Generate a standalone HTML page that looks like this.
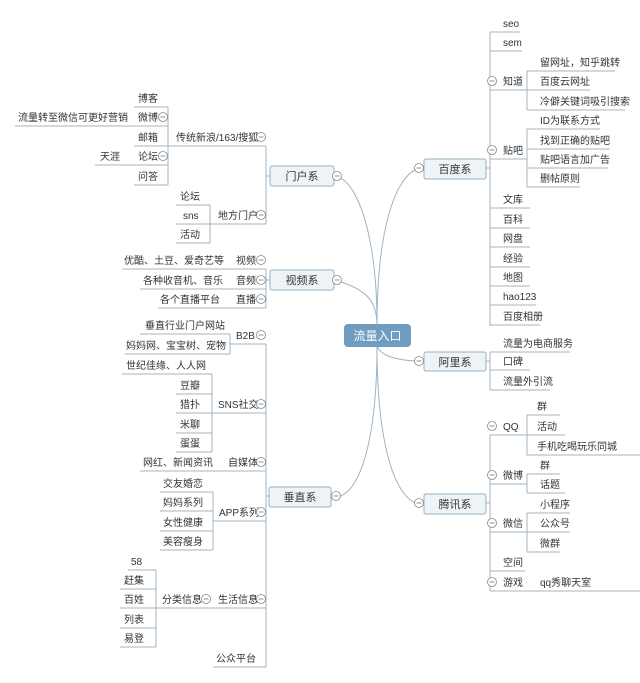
<!DOCTYPE html>
<html><head><meta charset="utf-8"><style>
html,body{margin:0;padding:0;background:#fff}
svg{display:block}
text{font-family:"Liberation Sans","Noto Sans CJK SC",sans-serif;font-size:10px;fill:#333}
.l{stroke:#9fb4c4;stroke-width:1;fill:none}
.c{fill:#fff;stroke:#888;stroke-width:0.8}
</style></head><body>
<svg width="640" height="683" viewBox="0 0 640 683" xmlns="http://www.w3.org/2000/svg">
<defs>
<g id="m"><circle class="c" r="4.5"/><line x1="-2.5" x2="2.5" y1="0" y2="0" stroke="#777" stroke-width="0.8"/></g>
</defs>
<!-- curves -->
<path class="l" stroke="#9aa" d="M377,325 C377,230 395,180 415,170"/>
<path class="l" d="M377,325 C377,240 360,190 341,178"/>
<path class="l" d="M377,325 C377,300 365,290 341,282"/>
<path class="l" d="M377,346 C380,355 395,360 415,361"/>
<path class="l" d="M377,346 C377,430 390,490 415,503"/>
<path class="l" d="M377,346 C377,440 360,490 340,496"/>

<!-- center -->
<rect x="344" y="324" width="67" height="23" rx="4" fill="#6f9cbf"/>
<text x="377.5" y="340" text-anchor="middle" style="fill:#fff;font-size:12px">流量入口</text>

<!-- main boxes -->
<g fill="#eef3f7" stroke="#9ab0c0">
<rect x="270" y="166" width="64" height="20" rx="2"/>
<rect x="270" y="270" width="64" height="20" rx="2"/>
<rect x="269" y="487" width="62" height="20" rx="2"/>
<rect x="424" y="159" width="62" height="20" rx="2"/>
<rect x="424" y="352" width="62" height="19" rx="2"/>
<rect x="424" y="494" width="62" height="20" rx="2"/>
</g>
<text x="302" y="180" text-anchor="middle" style="font-size:11px">门户系</text>
<text x="302" y="284" text-anchor="middle" style="font-size:11px">视频系</text>
<text x="300" y="501" text-anchor="middle" style="font-size:11px">垂直系</text>
<text x="455" y="173" text-anchor="middle" style="font-size:11px">百度系</text>
<text x="455" y="366" text-anchor="middle" style="font-size:11px">阿里系</text>
<text x="455" y="508" text-anchor="middle" style="font-size:11px">腾讯系</text>

<!-- Baidu -->
<path class="l" d="M486,168 H490 M490,32 V326
M490,32 H520 M490,51 H522 M490,90 H527 M527,71 V110 M527,71 H615 M527,90 H590 M527,110 H625
M490,159 H527 M527,129 V187 M527,129 H600 M527,149 H610 M527,168 H608 M527,187 H580
M490,208 H530 M490,228 H530 M490,247 H530 M490,267 H530 M490,286 H530 M490,305 H536 M490,325 H540"/>
<text x="503" y="27">seo</text><text x="503" y="46">sem</text>
<text x="503" y="85">知道</text><use href="#m" x="492" y="81"/>
<text x="540" y="66">留网址，知乎跳转</text><text x="540" y="85">百度云网址</text><text x="540" y="105">冷僻关键词吸引搜索</text>
<text x="503" y="154">贴吧</text><use href="#m" x="492" y="150"/>
<text x="540" y="124">ID为联系方式</text><text x="540" y="144">找到正确的贴吧</text><text x="540" y="163">贴吧语言加广告</text><text x="540" y="182">删帖原则</text>
<text x="503" y="203">文库</text><text x="503" y="223">百科</text><text x="503" y="242">网盘</text><text x="503" y="262">经验</text><text x="503" y="281">地图</text><text x="503" y="300">hao123</text><text x="503" y="320">百度相册</text>
<use href="#m" x="419" y="168"/>

<!-- Ali -->
<path class="l" d="M486,361 H490 M490,352 V390 M490,352 H570 M490,370 H530 M490,390 H550"/>
<text x="503" y="347">流量为电商服务</text><text x="503" y="365">口碑</text><text x="503" y="385">流量外引流</text>
<use href="#m" x="419" y="361"/>

<!-- Tencent -->
<path class="l" d="M486,503 H490 M490,435 V591
M490,435 H527 M527,415 V455 M527,415 H560 M527,435 H565 M527,455 H640
M490,484 H527 M527,474 V493 M527,474 H560 M527,493 H565
M490,532 H527 M527,513 V552 M527,513 H570 M527,532 H570 M527,552 H560
M490,571 H525 M490,591 H640"/>
<text x="503" y="430">QQ</text><use href="#m" x="492" y="426"/>
<text x="537" y="410">群</text><text x="537" y="430">活动</text><text x="537" y="450">手机吃喝玩乐同城</text>
<text x="503" y="479">微博</text><use href="#m" x="492" y="475"/>
<text x="540" y="469">群</text><text x="540" y="488">话题</text>
<text x="503" y="527">微信</text><use href="#m" x="492" y="523"/>
<text x="540" y="508">小程序</text><text x="540" y="527">公众号</text><text x="540" y="547">微群</text>
<text x="503" y="566">空间</text>
<text x="503" y="586">游戏</text><use href="#m" x="492" y="582"/><text x="540" y="586">qq秀聊天室</text>
<use href="#m" x="419" y="503"/>

<!-- Portal -->
<path class="l" d="M270,176 H266 M266,146 V224 M172,146 H266
M168,107 V185 M134,107 H168 M134,126 H168 M134,146 H172 M134,165 H168 M134,185 H168
M15,126 H157 M95,165 H157
M210,224 H266 M210,205 V243 M176,205 H210 M176,224 H210 M176,243 H210"/>
<text x="176" y="141">传统新浪/163/搜狐</text><use href="#m" x="261" y="137"/>
<text x="138" y="102">博客</text><text x="138" y="121">微博</text><use href="#m" x="163" y="117"/>
<text x="138" y="141">邮箱</text><text x="138" y="160">论坛</text><use href="#m" x="163" y="156"/><text x="138" y="180">问答</text>
<text x="18" y="121">流量转至微信可更好营销</text><text x="100" y="160">天涯</text>
<text x="218" y="219">地方门户</text><use href="#m" x="261" y="215"/>
<text x="180" y="200">论坛</text><text x="183" y="219">sns</text><text x="180" y="238">活动</text>
<use href="#m" x="337" y="176"/>

<!-- Video -->
<path class="l" d="M270,280 H266 M266,269 V308 M122,269 H266 M140,289 H266 M158,308 H266"/>
<text x="124" y="264">优酷、土豆、爱奇艺等</text><text x="236" y="264">视频</text><use href="#m" x="261" y="260"/>
<text x="143" y="284">各种收音机、音乐</text><text x="236" y="284">音频</text><use href="#m" x="261" y="280"/>
<text x="160" y="303">各个直播平台</text><text x="236" y="303">直播</text><use href="#m" x="261" y="299"/>
<use href="#m" x="337" y="280"/>

<!-- Vertical -->
<path class="l" d="M269,496 H266 M266,344 V667
M230,344 H266 M230,334 V354 M140,334 H230 M125,354 H230
M212,413 H266 M212,374 V452 M122,374 H212 M176,394 H212 M176,413 H212 M176,433 H212 M176,452 H212
M140,471 H266
M213,521 H266 M213,492 V550 M160,492 H213 M160,511 H213 M160,531 H213 M160,550 H213
M156,608 H266 M156,570 V647 M128,570 H156 M120,589 H156 M120,608 H156 M120,628 H156 M120,647 H156
M213,667 H266"/>
<text x="145" y="329">垂直行业门户网站</text><text x="126" y="349">妈妈网、宝宝树、宠物</text>
<text x="236" y="339">B2B</text><use href="#m" x="261" y="335"/>
<text x="126" y="369">世纪佳缘、人人网</text>
<text x="180" y="389">豆瓣</text><text x="180" y="408">猎扑</text><text x="180" y="428">米聊</text><text x="180" y="447">蛋蛋</text>
<text x="218" y="408">SNS社交</text><use href="#m" x="261" y="404"/>
<text x="143" y="466">网红、新闻资讯</text><text x="228" y="466">自媒体</text><use href="#m" x="261" y="462"/>
<text x="163" y="487">交友婚恋</text><text x="163" y="506">妈妈系列</text><text x="163" y="526">女性健康</text><text x="163" y="545">美容瘦身</text>
<text x="219" y="516">APP系列</text><use href="#m" x="261" y="512"/>
<text x="131" y="565">58</text><text x="124" y="584">赶集</text><text x="124" y="603">百姓</text><text x="124" y="623">列表</text><text x="124" y="642">易登</text>
<text x="162" y="603">分类信息</text><use href="#m" x="206" y="599"/>
<text x="218" y="603">生活信息</text><use href="#m" x="261" y="599"/>
<text x="216" y="662">公众平台</text>
<use href="#m" x="336" y="496"/>
</svg>
</body></html>
